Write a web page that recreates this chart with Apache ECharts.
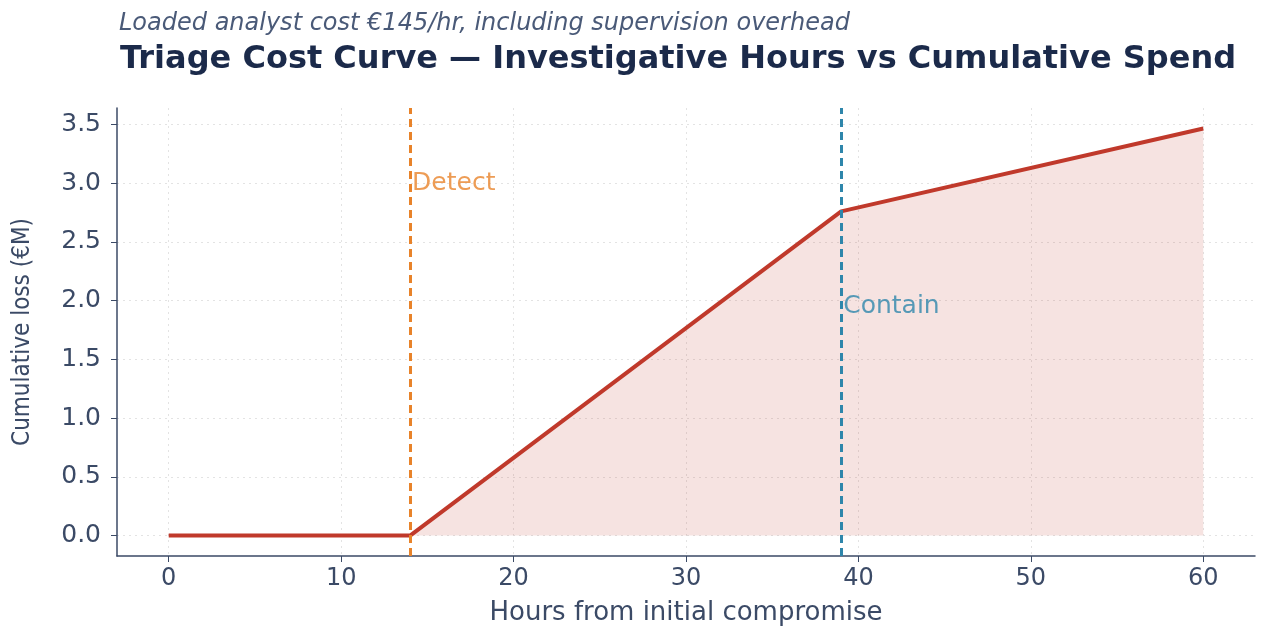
<!DOCTYPE html>
<html>
<head>
<meta charset="utf-8">
<script src="https://cdn.jsdelivr.net/npm/echarts@6/dist/echarts.min.js"></script>
<style>
  html, body { margin: 0; padding: 0; background: #ffffff; }
  #chart { width: 1261px; height: 626px; }
</style>
</head>
<body>
<div id="chart"></div>
<script>
// data
const hours = [0, 14, 39, 60];
const cumulativeLoss = [0, 0, 2.76, 3.465];
const xTicks = [0, 10, 20, 30, 40, 50, 60];
const yTicks = [0, 0.5, 1.0, 1.5, 2.0, 2.5, 3.0, 3.5];
const milestones = [
  { name: 'Detect', hour: 14, labelY: 3.0, color: '#e8832a' },
  { name: 'Contain', hour: 39, labelY: 1.95, color: '#2e86ab' }
];

const axisColor = '#3b4a66';
const narrow = "'DejaVu Sans Condensed', 'Liberation Sans Narrow', 'DejaVu Sans', sans-serif";

const chart = echarts.init(document.getElementById('chart'), null, { renderer: 'canvas' });

const lineData = hours.map((h, i) => [h, cumulativeLoss[i]]);

const option = {
  backgroundColor: '#ffffff',
  animation: false,
  title: [
    {
      text: 'Loaded analyst cost €145/hr, including supervision overhead',
      left: 114, top: 7,
      textStyle: { fontFamily: 'DejaVu Sans', fontStyle: 'italic', fontWeight: 'normal', fontSize: 24, color: '#4a5a78' }
    },
    {
      text: 'Triage Cost Curve — Investigative Hours vs Cumulative Spend',
      left: 115, top: 39,
      textStyle: { fontFamily: 'DejaVu Sans', fontWeight: 'bold', fontSize: 32, color: '#1b2a4a' }
    }
  ],
  grid: { left: 117, right: 6, top: 108, bottom: 70, outerBoundsMode: 'none', containLabel: false },
  xAxis: {
    type: 'value',
    min: -3, max: 63,
    name: 'Hours from initial compromise',
    nameLocation: 'middle',
    nameGap: 44,
    nameTextStyle: { fontFamily: 'DejaVu Sans', fontSize: 26, color: axisColor },
    axisLine: { onZero: false, lineStyle: { color: axisColor, width: 1.5 } },
    axisTick: { show: true, customValues: xTicks, length: 6, lineStyle: { color: axisColor } },
    axisLabel: { customValues: xTicks, fontFamily: 'DejaVu Sans', fontSize: 24, color: axisColor, margin: 11 },
    splitLine: { show: true, lineStyle: { color: '#e3e3e3', type: [2, 4], width: 1 } }
  },
  yAxis: {
    type: 'value',
    min: -0.1735, max: 3.64,
    name: 'Cumulative loss (€M)',
    nameLocation: 'middle',
    nameRotate: 90,
    nameGap: 82,
    nameTextStyle: { fontFamily: narrow, fontSize: 24, color: axisColor },
    axisLine: { show: true, onZero: false, lineStyle: { color: axisColor, width: 1.5 } },
    axisTick: { show: true, customValues: yTicks, length: 6, lineStyle: { color: axisColor } },
    axisLabel: {
      customValues: yTicks, fontFamily: 'DejaVu Sans', fontSize: 25, color: axisColor, margin: 16,
      formatter: v => v.toFixed(1)
    },
    splitLine: { show: true, lineStyle: { color: '#e3e3e3', type: [2, 4], width: 1 } }
  },
  series: [
    {
      name: 'Cumulative loss',
      type: 'line',
      data: lineData,
      symbol: 'none',
      lineStyle: { color: '#c0392b', width: 4 },
      areaStyle: { color: 'rgba(192, 57, 43, 0.2)', origin: 0 },
      z: 3,
      markLine: {
        silent: true,
        symbol: 'none',
        label: { show: false },
        data: milestones.map(m => ({
          xAxis: m.hour,
          lineStyle: { color: m.color, type: [8, 5], width: 3 }
        })),
        z: 4
      }
    },
    {
      name: 'Milestone labels',
      type: 'scatter',
      symbolSize: 0,
      data: milestones.map(m => ({
        value: [m.hour, m.labelY],
        label: {
          show: true, position: 'right', distance: 2,
          formatter: m.name,
          fontFamily: 'DejaVu Sans', fontSize: 25, color: m.color
        }
      })),
      z: 5
    }
  ]
};

chart.setOption(option);
window.addEventListener('resize', () => chart.resize());
</script>
</body>
</html>
